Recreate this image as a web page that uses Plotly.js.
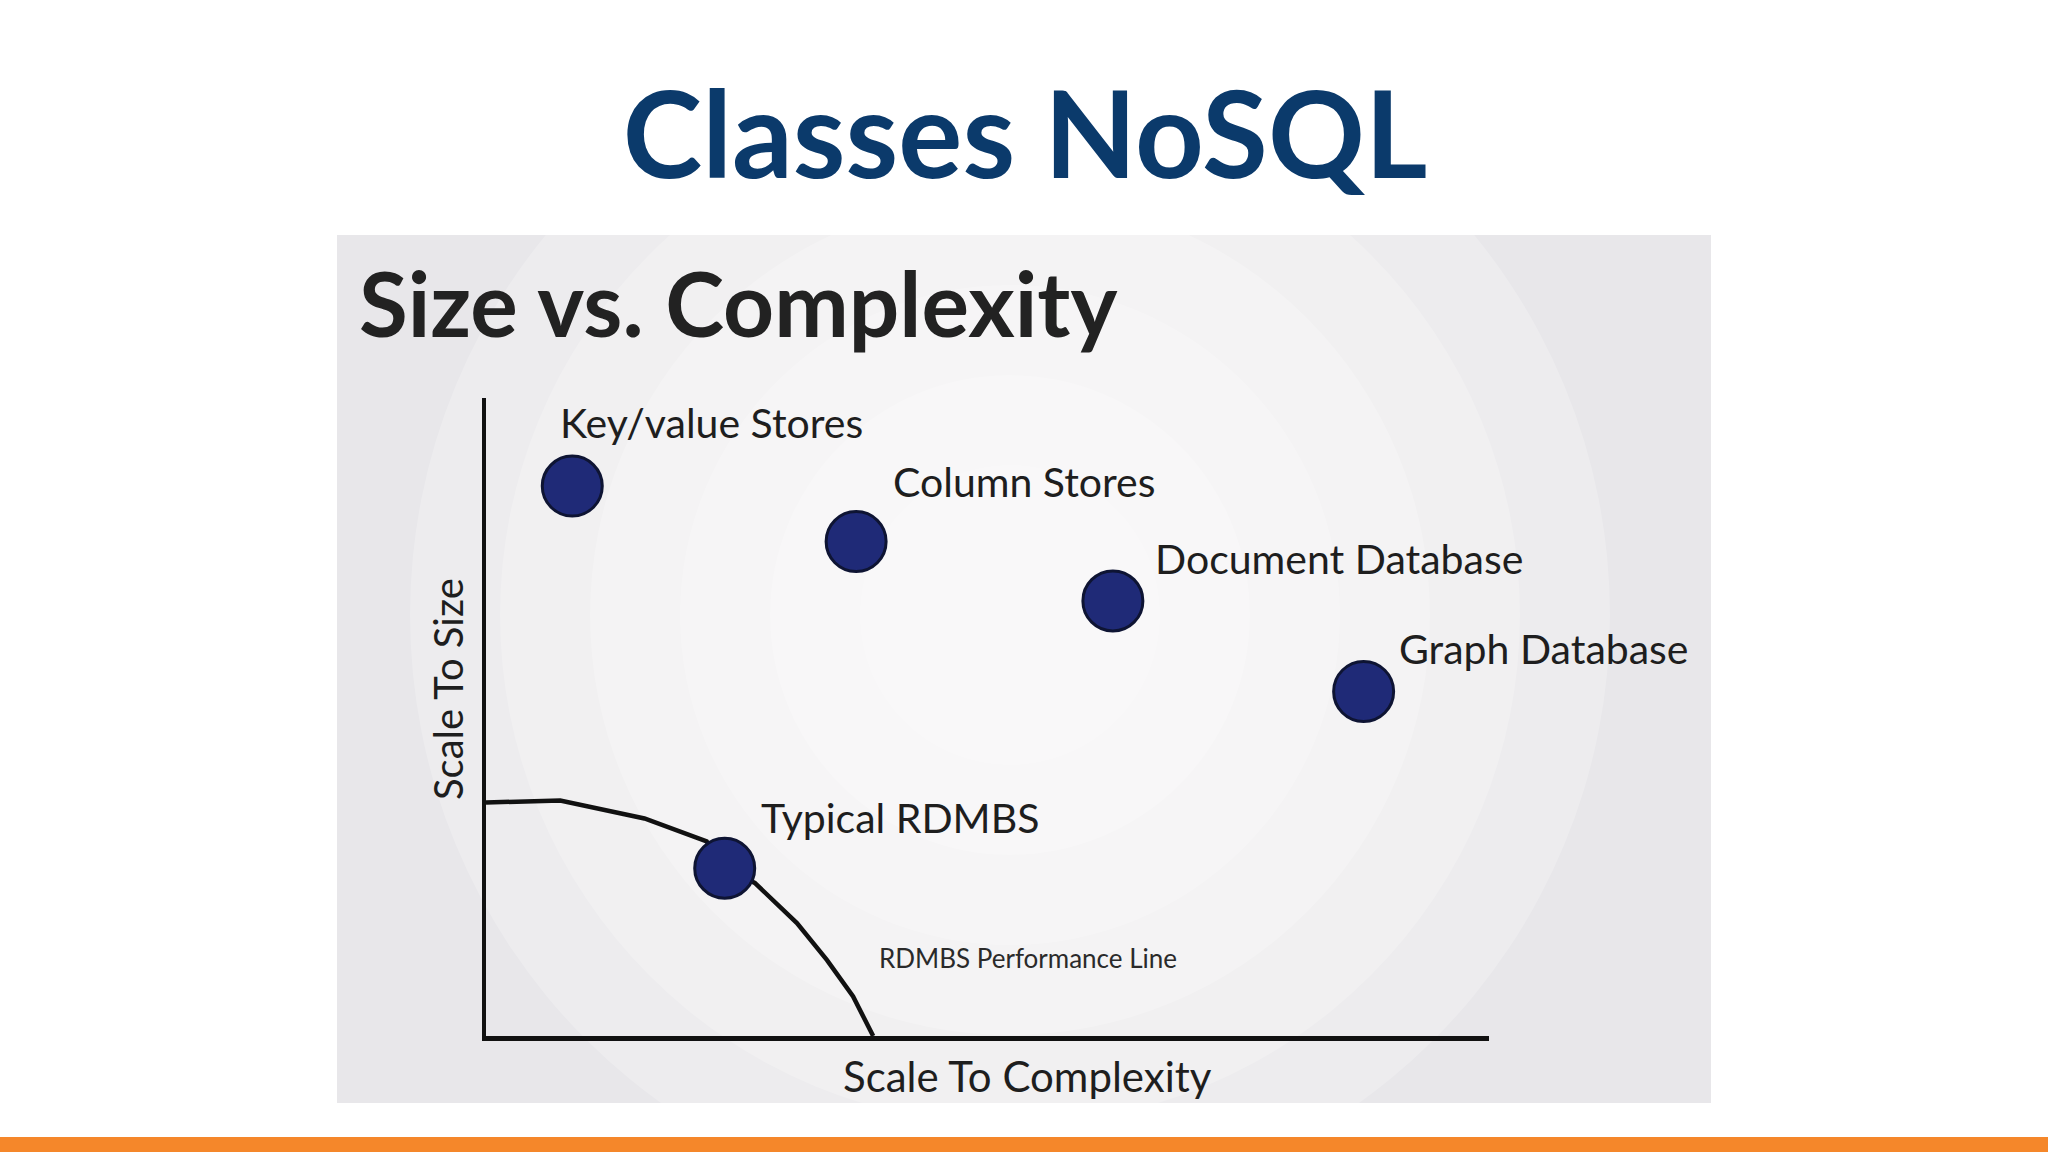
<!DOCTYPE html>
<html>
<head>
<meta charset="utf-8">
<script src="https://cdn.plot.ly/plotly-3.0.1.min.js"></script>
<style>
  html, body { margin: 0; padding: 0; background: #ffffff; }
  #chart { width: 2048px; height: 1152px; }
</style>
</head>
<body>
<div id="chart"></div>
<script>
// ---- Data ----
const categories = ["Key/value Stores", "Column Stores", "Document Database", "Graph Database", "Typical RDMBS"];
const complexity = [0.86, 3.69, 6.25, 8.75, 2.38];   // x: Scale To Complexity
const size       = [8.62, 7.75, 6.82, 5.40, 2.63];   // y: Scale To Size

// RDMBS performance line
const perfX = [0.00, 0.74, 1.58, 2.20, 2.38, 2.68, 3.10, 3.40, 3.66, 3.86];
const perfY = [3.66, 3.69, 3.41, 3.05, 2.63, 2.40, 1.77, 1.19, 0.62, 0.00];
const perfLabel = "RDMBS Performance Line";
const perfLabelPos = [3.90, 1.22];

const slideTitle = "Classes NoSQL";
const panelTitle = "Size vs. Complexity";
const xTitle = "Scale To Complexity";
const yTitle = "Scale To Size";

// label offsets (px) relative to each point
const labelDx = [-14, 35, 40, 33, 34];
const labelDy = [64, 60, 42, 43, 51];

// ---- Styling ----
const W = 2048, H = 1152;
const FONT = "Lato, 'Open Sans', sans-serif";
const INK = "#1e1e1e";
const NAVY = "#1f2a77";

// glow circles (decoration) in panel pixel space
const glowC = [1010, 615];
const glowR = [600, 510, 420, 330, 240, 150];

const shapes = [
  // grey panel
  { type: "rect", xref: "paper", yref: "paper", layer: "below",
    x0: 337 / W, x1: 1711 / W, y0: 1 - 1103 / H, y1: 1 - 235 / H,
    fillcolor: "#e8e7ea", line: { width: 0 } },
  // orange footer bar
  { type: "rect", xref: "paper", yref: "paper", layer: "below",
    x0: 0, x1: 1, y0: 0, y1: 1 - 1137 / H,
    fillcolor: "#f5872a", line: { width: 0 } }
];
glowR.forEach(r => {
  shapes.push({ type: "circle", xref: "x", yref: "y", layer: "below",
    x0: glowC[0] - r, x1: glowC[0] + r, y0: glowC[1] - r, y1: glowC[1] + r,
    fillcolor: "rgba(255,255,255,0.22)", line: { width: 0 } });
});

const traces = [
  // invisible trace to create the panel (background) axes, drawn first
  { type: "scatter", mode: "markers", x: [337, 1711], y: [235, 1103], xaxis: "x", yaxis: "y",
    marker: { opacity: 0 }, hoverinfo: "skip", showlegend: false },
  { type: "scatter", mode: "lines", x: perfX, y: perfY, xaxis: "x2", yaxis: "y2",
    line: { color: "#111111", width: 4.5 }, hoverinfo: "skip", showlegend: false },
  { type: "scatter", mode: "markers", x: complexity, y: size, text: categories, xaxis: "x2", yaxis: "y2",
    marker: { size: 60, color: NAVY, line: { color: "#0e1433", width: 3 } },
    hoverinfo: "text", showlegend: false }
];

const annotations = categories.map((c, i) => ({
  text: c, x: complexity[i], y: size[i], xref: "x2", yref: "y2",
  xanchor: "left", yanchor: "middle", showarrow: false,
  xshift: labelDx[i], yshift: labelDy[i],
  font: { family: FONT, size: 41, color: INK }
}));
annotations.push({
  text: perfLabel, x: perfLabelPos[0], y: perfLabelPos[1], xref: "x2", yref: "y2",
  xanchor: "left", yanchor: "middle", showarrow: false,
  font: { family: FONT, size: 26, color: "#2a2a2a" }
});
annotations.push({
  text: panelTitle, xref: "paper", yref: "paper", x: 357 / W, y: 1 - 302 / H,
  xanchor: "left", yanchor: "middle", showarrow: false,
  font: { family: FONT, size: 89, color: "#222222", weight: 700 }
});
annotations.push({
  text: xTitle, xref: "paper", yref: "paper", x: 1027 / W, y: 1 - 1076 / H,
  xanchor: "center", yanchor: "middle", showarrow: false,
  font: { family: FONT, size: 42, color: INK }
});
annotations.push({
  text: yTitle, xref: "paper", yref: "paper", x: 448 / W, y: 1 - 689 / H,
  xanchor: "center", yanchor: "middle", showarrow: false, textangle: -90,
  font: { family: FONT, size: 40, color: INK }
});

const layout = {
  width: W, height: H,
  margin: { l: 0, r: 0, t: 0, b: 0, pad: 0 },
  paper_bgcolor: "#ffffff",
  plot_bgcolor: "rgba(0,0,0,0)",
  title: { text: slideTitle, x: 1025 / W, xanchor: "center", y: 1 - 136 / H, yanchor: "middle",
           font: { family: FONT, size: 120, color: "#0b3a6b", weight: 700 } },
  xaxis: { domain: [337 / W, 1711 / W], range: [337, 1711], visible: false, anchor: "y", fixedrange: true },
  yaxis: { domain: [1 - 1103 / H, 1 - 235 / H], range: [1103, 235], visible: false, anchor: "x", fixedrange: true },
  xaxis2: { domain: [486 / W, 1489 / W], range: [0, 10], anchor: "y2", showline: true, linewidth: 5, linecolor: "#111111",
           showgrid: false, zeroline: false, showticklabels: false, ticks: "", fixedrange: true },
  yaxis2: { domain: [1 - 1036 / H, 1 - 398 / H], range: [0, 10], anchor: "x2", showline: true, linewidth: 4, linecolor: "#111111",
           showgrid: false, zeroline: false, showticklabels: false, ticks: "", fixedrange: true },
  shapes: shapes,
  annotations: annotations,
  showlegend: false
};

Plotly.newPlot("chart", traces, layout, { displayModeBar: false, staticPlot: true });
</script>
</body>
</html>
